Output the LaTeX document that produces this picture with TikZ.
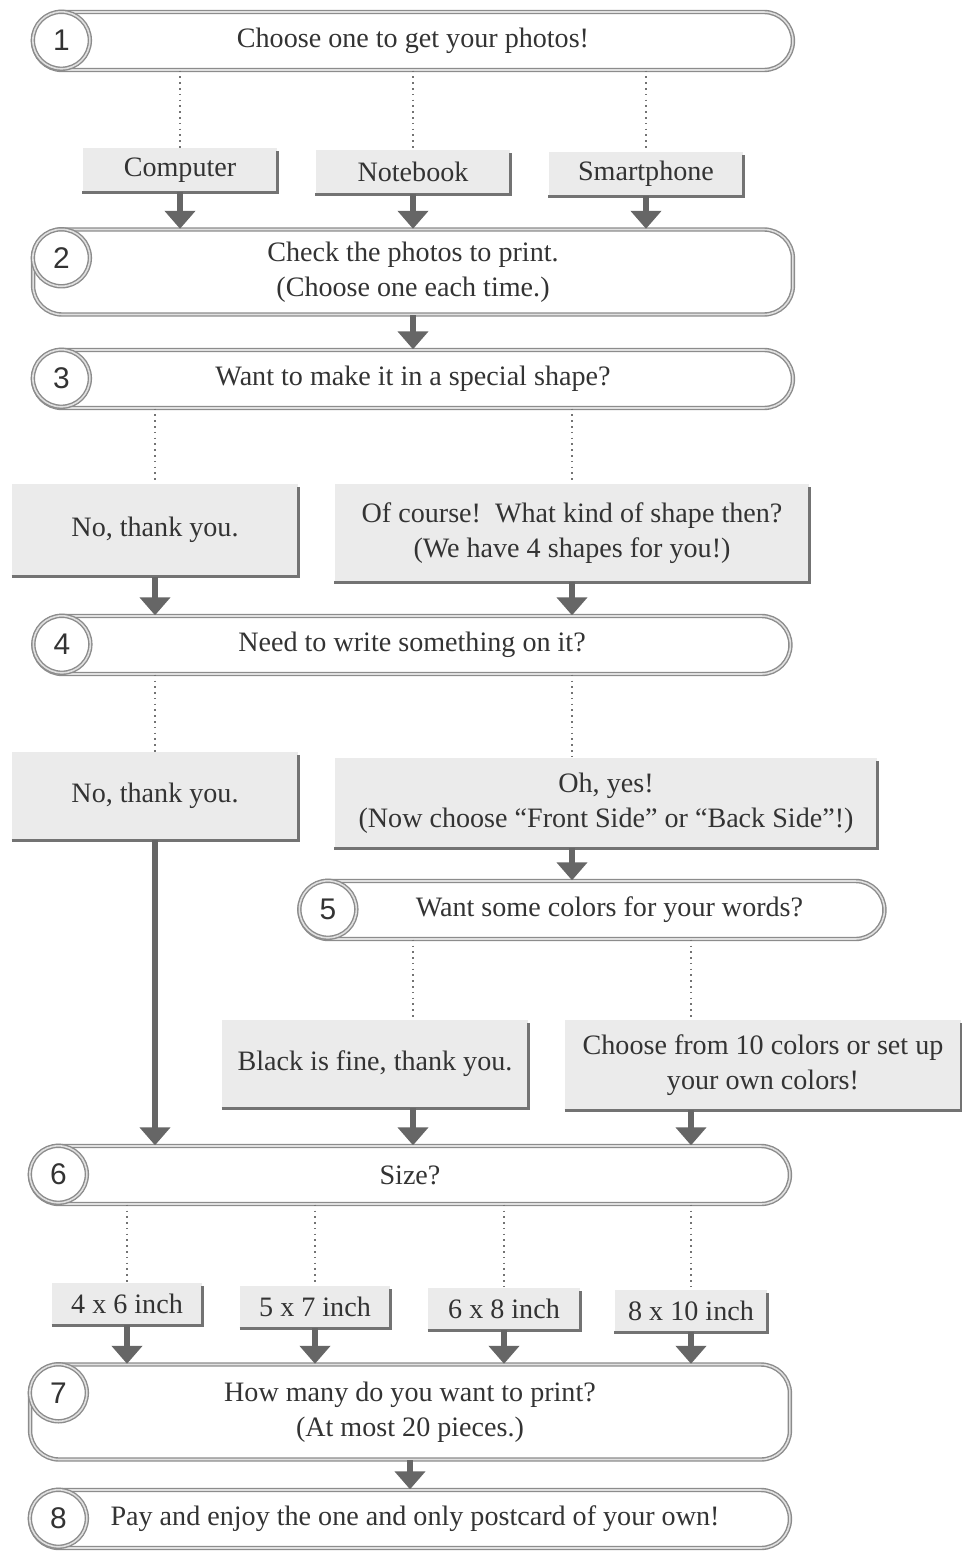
\documentclass[tikz,border=0pt]{standalone}
\usepackage{fontspec}
\setmainfont{Liberation Serif}
\newfontfamily\numfont{Liberation Sans}
\usetikzlibrary{arrows.meta}

\begin{document}
\begin{tikzpicture}[x=0.02cm, y=-0.02cm,
  every node/.style={text=black!80, font=\fontsize{16}{20}\selectfont},
  stepbox/.style={draw=black!45, double=black!12, double distance=0.9pt, line width=0.8pt, fill=white,
    rounded corners=0.58cm, minimum width=15.2cm, minimum height=1.16cm, align=center},
  numcirc/.style={circle, draw=black!45, double=black!12, double distance=0.9pt, line width=0.8pt,
    fill=white, minimum size=1.14cm, inner sep=0pt, font=\numfont\fontsize{17}{20}\selectfont},
  optbox/.style={fill=black!8, inner sep=0pt, align=center},
  shade/.style={draw=black!55, line width=1.6pt},
  link/.style={draw=black!55, line width=0.9pt, dash pattern=on 0.9pt off 2.4pt},
  arr/.style={draw=black!60, line width=3pt, -{Triangle[width=0.6cm, length=0.36cm]}}]
\useasboundingbox (0, 0) rectangle (962, 1551);

\node at (413, 41) (s1) [stepbox] {Choose one to get your photos!};
\node at (413, 272) (s2) [stepbox, minimum height=1.7cm] {Check the photos to print.\\(Choose one each time.)};
\node at (413, 379) (s3) [stepbox] {Want to make it in a special shape?};
\node at (412, 645) (s4) [stepbox, minimum width=15.14cm] {Need to write something on it?};
\node at (592, 910) (s5) [stepbox, minimum width=11.7cm] {\hspace{0.7cm}Want some colors for your words?};
\node at (410, 1175) (s6) [stepbox] {Size?};
\node at (410, 1412) (s7) [stepbox, minimum height=1.9cm] {How many do you want to print?\\(At most 20 pieces.)};
\node at (410, 1519) (s8) [stepbox] {\hspace{0.2cm}Pay and enjoy the one and only postcard of your own!};

\foreach \s/\n in {s1/1, s2/2, s3/3, s4/4, s5/5, s6/6, s7/7, s8/8}
  \node at ([xshift=0.58cm, yshift=-0.58cm]\s.north west) (n\n) [numcirc] {\n};

\node at (180, 170) (comp) [optbox, minimum width=3.9cm, minimum height=0.88cm] {Computer};
\node at (413, 172) (note) [optbox, minimum width=3.9cm, minimum height=0.88cm] {Notebook};
\node at (646, 174) (phone) [optbox, minimum width=3.9cm, minimum height=0.88cm] {Smartphone};
\node at (155, 530) (no1) [optbox, minimum width=5.72cm, minimum height=1.86cm] {No, thank you.};
\node at (572, 533) (course) [optbox, minimum width=9.5cm, minimum height=1.96cm] {Of course!\ \ What kind of shape then?\\(We have 4 shapes for you!)};
\node at (155, 796) (no2) [optbox, minimum width=5.72cm, minimum height=1.76cm] {No, thank you.};
\node at (606, 803) (yes) [optbox, minimum width=10.86cm, minimum height=1.8cm] {Oh, yes!\\(Now choose ``Front Side'' or ``Back Side''!)};
\node at (375, 1064) (black) [optbox, minimum width=6.12cm, minimum height=1.76cm] {Black is fine, thank you.};
\node at (763, 1065) (own) [optbox, minimum width=7.92cm, minimum height=1.8cm] {Choose from 10 colors or set up\\your own colors!};
\node at (127, 1304) (z46) [optbox, minimum width=3cm, minimum height=0.84cm] {4 x 6 inch};
\node at (315, 1307) (z57) [optbox, minimum width=3cm, minimum height=0.84cm] {5 x 7 inch};
\node at (504, 1309) (z68) [optbox, minimum width=3.04cm, minimum height=0.84cm] {6 x 8 inch};
\node at (691, 1311) (z810) [optbox, minimum width=3.06cm, minimum height=0.84cm] {8 x 10 inch};

\foreach \b in {comp, note, phone, no1, course, no2, yes, black, own, z46, z57, z68, z810}
  \draw[shade] (\b.south west) -- (\b.south east) -- ([yshift=-2pt]\b.north east);

\foreach \b in {comp, note, phone} {
  \draw[link] (s1.south -| \b) -- (\b.north);
  \draw[arr] (\b.south) -- (s2.north -| \b);
}
\draw[arr] (s2.south) -- (s3.north);
\foreach \b in {no1, course} {
  \draw[link] (s3.south -| \b) -- (\b.north);
  \draw[arr] (\b.south) -- (s4.north -| \b);
}
\draw[link] (s4.south -| no2) -- (no2.north);
\draw[link] (s4.south -| course) -- (yes.north -| course);
\draw[arr] (no2.south) -- (s6.north -| no2);
\draw[arr] (yes.south -| course) -- (s5.north -| course);
\draw[link] (s5.south -| note) -- (black.north -| note);
\draw[link] (s5.south -| z810) -- (own.north -| z810);
\draw[arr] (black.south -| note) -- (s6.north -| note);
\draw[arr] (own.south -| z810) -- (s6.north -| z810);
\foreach \b in {z46, z57, z68, z810} {
  \draw[link] (s6.south -| \b) -- (\b.north);
  \draw[arr] (\b.south) -- (s7.north -| \b);
}
\draw[arr] (s7.south) -- (s8.north);
\end{tikzpicture}
\end{document}
